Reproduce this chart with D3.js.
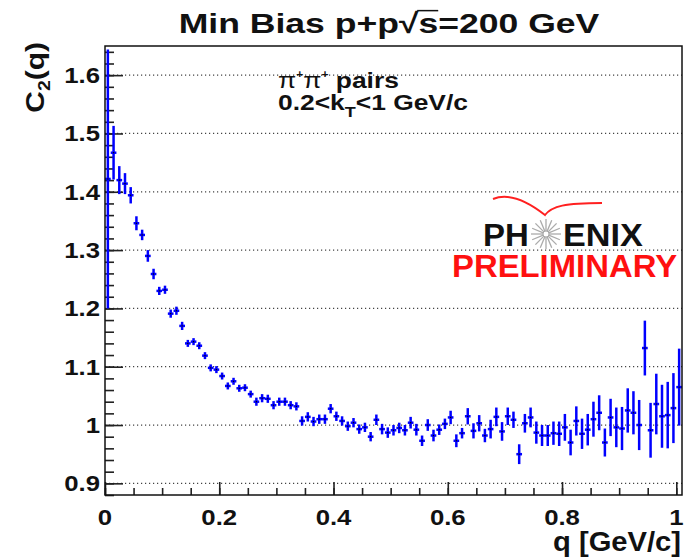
<!DOCTYPE html>
<html>
<head>
<meta charset="utf-8">
<script src="https://cdn.jsdelivr.net/npm/d3@7"></script>
<style>
  body { margin: 0; background: #fff; }
  text { font-family: "Liberation Sans", Arial, Helvetica, sans-serif; font-weight: bold; }
</style>
</head>
<body>
<script>
// bin centres, q in GeV/c
var qValues = [0.005, 0.015, 0.025, 0.035, 0.045, 0.055, 0.065, 0.075, 0.085, 0.095,
  0.105, 0.115, 0.125, 0.135, 0.145, 0.155, 0.165, 0.175, 0.185, 0.195,
  0.205, 0.215, 0.225, 0.235, 0.245, 0.255, 0.265, 0.275, 0.285, 0.295,
  0.305, 0.315, 0.325, 0.335, 0.345, 0.355, 0.365, 0.375, 0.385, 0.395,
  0.405, 0.415, 0.425, 0.435, 0.445, 0.455, 0.465, 0.475, 0.485, 0.495,
  0.505, 0.515, 0.525, 0.535, 0.545, 0.555, 0.565, 0.575, 0.585, 0.595,
  0.605, 0.615, 0.625, 0.635, 0.645, 0.655, 0.665, 0.675, 0.685, 0.695,
  0.705, 0.715, 0.725, 0.735, 0.745, 0.755, 0.765, 0.775, 0.785, 0.795,
  0.805, 0.815, 0.825, 0.835, 0.845, 0.855, 0.865, 0.875, 0.885, 0.895,
  0.905, 0.915, 0.925, 0.935, 0.945, 0.955, 0.965, 0.975, 0.985, 0.995, 1.005];

var c2Values = [1.422, 1.467, 1.420, 1.414, 1.394, 1.346, 1.326, 1.290, 1.259, 1.230,
  1.232, 1.191, 1.196, 1.170, 1.140, 1.143, 1.136, 1.119, 1.098, 1.095,
  1.084, 1.067, 1.075, 1.063, 1.064, 1.053, 1.040, 1.046, 1.045, 1.034,
  1.040, 1.040, 1.034, 1.032, 1.007, 1.014, 1.006, 1.010, 1.010, 1.028,
  1.015, 1.007, 0.998, 1.004, 0.993, 0.996, 0.980, 1.009, 0.993, 0.987,
  0.991, 0.995, 0.991, 1.004, 0.992, 0.973, 1.000, 0.982, 0.992, 1.002,
  1.013, 0.973, 0.986, 1.015, 0.990, 1.003, 0.982, 0.993, 1.014, 0.989,
  1.015, 1.009, 0.950, 1.003, 1.013, 0.987, 0.982, 0.982, 0.986, 0.985,
  0.996, 0.970, 1.007, 0.985, 0.992, 1.010, 1.021, 0.970, 1.013, 0.996,
  0.994, 1.025, 1.021, 1.000, 1.132, 0.991, 1.036, 1.015, 1.017, 1.029, 1.065];

var c2Errors = [0.222, 0.046, 0.024, 0.018, 0.014, 0.012, 0.009, 0.010, 0.009, 0.007,
  0.007, 0.007, 0.007, 0.007, 0.006, 0.006, 0.006, 0.006, 0.006, 0.006,
  0.006, 0.006, 0.006, 0.006, 0.006, 0.006, 0.007, 0.007, 0.007, 0.007,
  0.007, 0.007, 0.007, 0.007, 0.008, 0.008, 0.008, 0.008, 0.008, 0.008,
  0.008, 0.008, 0.008, 0.008, 0.008, 0.008, 0.008, 0.009, 0.009, 0.009,
  0.009, 0.009, 0.009, 0.010, 0.010, 0.009, 0.010, 0.010, 0.009, 0.009,
  0.0115, 0.011, 0.009, 0.014, 0.013, 0.014, 0.0115, 0.016, 0.016, 0.016,
  0.015, 0.014, 0.017, 0.016, 0.017, 0.019, 0.018, 0.018, 0.020, 0.021,
  0.023, 0.022, 0.025, 0.026, 0.027, 0.030, 0.030, 0.024, 0.032, 0.034,
  0.037, 0.038, 0.037, 0.043, 0.047, 0.047, 0.052, 0.054, 0.057, 0.060, 0.066];

var binHalfWidth = 0.005;

var yTickValues = [0.9, 1.0, 1.1, 1.2, 1.3, 1.4, 1.5, 1.6];
var yTickLabels = ["0.9", "1", "1.1", "1.2", "1.3", "1.4", "1.5", "1.6"];
var xTickValues = [0, 0.2, 0.4, 0.6, 0.8, 1.0];
var xTickLabels = ["0", "0.2", "0.4", "0.6", "0.8", "1"];

var frame = {left: 105, right: 682, top: 46, bottom: 495};
var width = 686, height = 558;
var stretch = 1.17;   // the ROOT fonts come out wider than Arial

var svg = d3.select("body").append("svg")
    .attr("width", width)
    .attr("height", height);

var xScale = d3.scaleLinear().domain([0, 1.01]).range([frame.left, frame.right]);
var yScale = d3.scaleLinear().domain([0.88, 1.65]).range([frame.bottom, frame.top]);

var dataset = qValues.map(function(q, i){
    return {q: q, c2: c2Values[i], err: c2Errors[i]};
});

function place(x, y, sx){
    return "translate(" + x + "," + y + ") scale(" + (sx || stretch) + ",1)";
}

svg.append("clipPath").attr("id", "frameClip")
  .append("rect")
    .attr("x", frame.left).attr("y", frame.top)
    .attr("width", frame.right - frame.left)
    .attr("height", frame.bottom - frame.top);

// dotted horizontal grid
svg.append("g")
    .selectAll("line")
    .data(yTickValues)
    .enter()
    .append("line")
    .attr("x1", frame.left)
    .attr("x2", frame.right)
    .attr("y1", function(d){ return yScale(d); })
    .attr("y2", function(d){ return yScale(d); })
    .attr("stroke", "#444")
    .attr("stroke-width", 1.2)
    .attr("stroke-dasharray", "1.2,2.8");

// y axis: ticks inside the frame
var yAxis = d3.axisRight(yScale)
    .tickValues(yTickValues)
    .tickSize(18)
    .tickFormat("");
var yMinor = d3.axisRight(yScale)
    .tickValues(d3.range(0.88, 1.651, 0.02))
    .tickSize(9)
    .tickFormat("");

svg.append("g").attr("transform", "translate(" + frame.left + ",0)").call(yMinor);
svg.append("g").attr("transform", "translate(" + frame.left + ",0)").call(yAxis);

var xAxis = d3.axisTop(xScale)
    .tickValues(xTickValues)
    .tickSize(13)
    .tickFormat("");
var xMinor = d3.axisTop(xScale)
    .tickValues(d3.range(0, 1.01, 0.05))
    .tickSize(7)
    .tickFormat("");

svg.append("g").attr("transform", "translate(0," + frame.bottom + ")").call(xMinor);
svg.append("g").attr("transform", "translate(0," + frame.bottom + ")").call(xAxis);

svg.selectAll(".domain").remove();
svg.selectAll(".tick line").attr("stroke", "#222").attr("stroke-width", 1.6);

// tick labels
svg.append("g")
    .selectAll("text")
    .data(yTickValues)
    .enter()
    .append("text")
    .attr("transform", function(d){ return place(100, yScale(d) + 8); })
    .attr("text-anchor", "end")
    .attr("font-size", 22)
    .attr("fill", "#111")
    .text(function(d, i){ return yTickLabels[i]; });

svg.append("g")
    .selectAll("text")
    .data(xTickValues)
    .enter()
    .append("text")
    .attr("transform", function(d){ return place(xScale(d), 525); })
    .attr("text-anchor", "middle")
    .attr("font-size", 22)
    .attr("fill", "#111")
    .text(function(d, i){ return xTickLabels[i]; });

// data points with error bars
var pts = svg.append("g").attr("clip-path", "url(#frameClip)");

pts.selectAll("line.ey")
    .data(dataset)
    .enter()
    .append("line")
    .attr("class", "ey")
    .attr("x1", function(d){ return xScale(d.q); })
    .attr("x2", function(d){ return xScale(d.q); })
    .attr("y1", function(d){ return yScale(d.c2 - d.err); })
    .attr("y2", function(d){ return yScale(d.c2 + d.err); })
    .attr("stroke", "#0000ff")
    .attr("stroke-width", 2.5);

pts.selectAll("line.ex")
    .data(dataset)
    .enter()
    .append("line")
    .attr("class", "ex")
    .attr("x1", function(d){ return xScale(d.q - binHalfWidth); })
    .attr("x2", function(d){ return xScale(d.q + binHalfWidth); })
    .attr("y1", function(d){ return yScale(d.c2); })
    .attr("y2", function(d){ return yScale(d.c2); })
    .attr("stroke", "#0000ff")
    .attr("stroke-width", 2.5);

pts.selectAll("rect.mk")
    .data(dataset)
    .enter()
    .append("rect")
    .attr("class", "mk")
    .attr("x", function(d){ return xScale(d.q) - 0.6; })
    .attr("y", function(d){ return yScale(d.c2) - 0.6; })
    .attr("width", 1.2)
    .attr("height", 1.2)
    .attr("fill", "#000");

// frame
svg.append("rect")
    .attr("x", frame.left)
    .attr("y", frame.top)
    .attr("width", frame.right - frame.left)
    .attr("height", frame.bottom - frame.top)
    .attr("fill", "none")
    .attr("stroke", "#111")
    .attr("stroke-width", 1.5);

// title
var titleG = svg.append("g").attr("transform", place(389, 33, 1.27));
var title = titleG.append("text")
    .attr("text-anchor", "middle")
    .attr("font-size", 28)
    .attr("fill", "#111");
title.append("tspan").text("Min Bias p+p");
title.append("tspan").attr("class", "rad").text("\u221A");
title.append("tspan").attr("class", "sval").text("s");
title.append("tspan").text("=200 GeV");

var sBox = title.select(".sval").node().getBBox();
titleG.append("line")
    .attr("x1", sBox.x - 1)
    .attr("x2", sBox.x + sBox.width)
    .attr("y1", sBox.y + 3)
    .attr("y2", sBox.y + 3)
    .attr("stroke", "#111")
    .attr("stroke-width", 1.5);

// axis titles
svg.append("text")
    .attr("transform", "translate(44,42) rotate(-90) scale(1.15,1)")
    .attr("text-anchor", "end")
    .attr("font-size", 26)
    .attr("fill", "#111")
    .call(function(t){
        t.append("tspan").text("C");
        t.append("tspan").attr("font-size", 17).attr("dy", 6).text("2");
        t.append("tspan").attr("dy", -6).text("(q)");
    });

svg.append("text")
    .attr("transform", place(681, 551, 1.08))
    .attr("text-anchor", "end")
    .attr("font-size", 27)
    .attr("fill", "#111")
    .text("q [GeV/c]");

// annotation
var note = svg.append("g").attr("fill", "#111");
note.append("text")
    .attr("transform", place(278, 88, 1.2))
    .attr("font-size", 22)
    .call(function(t){
        t.append("tspan").attr("font-weight", "normal").text("\u03C0");
        t.append("tspan").attr("font-size", 10).attr("dy", -10).text("+");
        t.append("tspan").attr("font-weight", "normal").attr("dy", 10).text("\u03C0");
        t.append("tspan").attr("font-size", 10).attr("dy", -10).text("+");
        t.append("tspan").attr("dy", 10).text(" pairs");
    });
note.append("text")
    .attr("transform", place(278, 110, 1.2))
    .attr("font-size", 22)
    .call(function(t){
        t.append("tspan").text("0.2<k");
        t.append("tspan").attr("font-size", 15).attr("dy", 7).text("T");
        t.append("tspan").attr("dy", -7).text("<1 GeV/c");
    });

// PHENIX preliminary logo
var logo = svg.append("g");
logo.append("path")
    .attr("d", "M493,199 C505,194 522,197 545,215 C552,206 565,203 602,203")
    .attr("fill", "none")
    .attr("stroke", "#ff2020")
    .attr("stroke-width", 2);
logo.append("text")
    .attr("transform", place(483, 246, 1.03))
    .attr("font-size", 32).attr("fill", "#111")
    .text("PH");
logo.append("text")
    .attr("transform", place(563, 246, 1.07))
    .attr("font-size", 32).attr("fill", "#111")
    .text("ENIX");
var rays = d3.range(0, 360, 22.5);
logo.append("g")
    .selectAll("line")
    .data(rays)
    .enter()
    .append("line")
    .attr("x1", function(a){ return 546 + 3 * Math.cos(a * Math.PI / 180); })
    .attr("y1", function(a){ return 234 + 3 * Math.sin(a * Math.PI / 180); })
    .attr("x2", function(a){ return 546 + 15 * Math.cos(a * Math.PI / 180); })
    .attr("y2", function(a){ return 234 + 15 * Math.sin(a * Math.PI / 180); })
    .attr("stroke", "#aaa")
    .attr("stroke-width", 1.3);
logo.append("circle")
    .attr("cx", 546).attr("cy", 234).attr("r", 3)
    .attr("fill", "none").attr("stroke", "#aaa").attr("stroke-width", 1);
logo.append("text")
    .attr("transform", place(452, 277, 1.06))
    .attr("font-size", 31).attr("fill", "#ff1010")
    .text("PRELIMINARY");
</script>
</body>
</html>
